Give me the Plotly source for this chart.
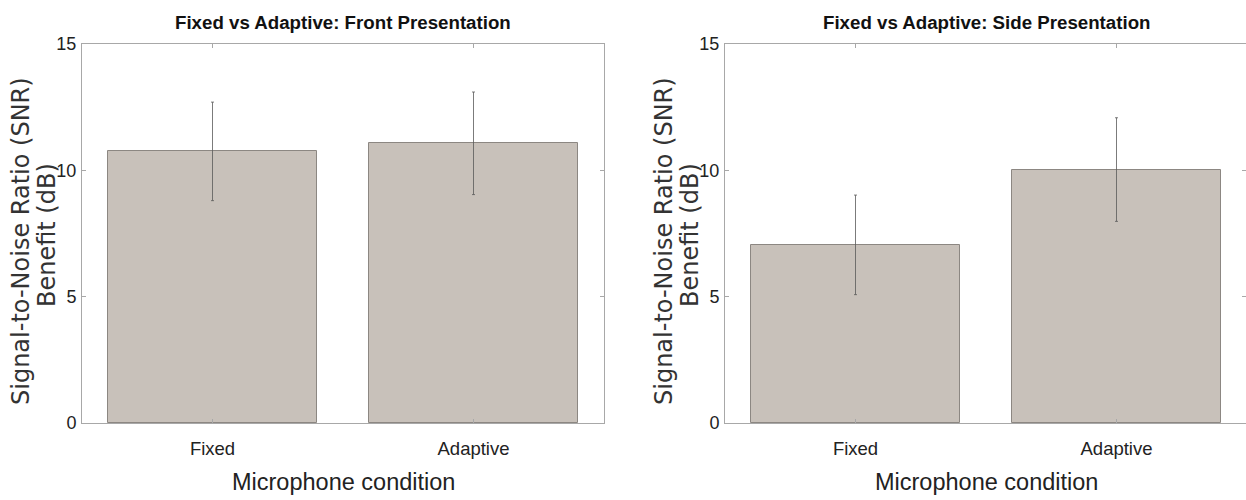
import plotly.graph_objects as go

categories = ["Fixed", "Adaptive"]
front_means = [10.75, 11.07]
front_err = [1.95, 2.03]
side_means = [7.05, 10.03]
side_err = [1.97, 2.05]
y_ticks = [0, 5, 10, 15]

titles = ["Fixed vs Adaptive: Front Presentation", "Fixed vs Adaptive: Side Presentation"]
x_title = "Microphone condition"
y_title_lines = ["Signal-to-Noise Ratio (SNR)", "Benefit (dB)"]

W, H = 1246, 500
sans = "Liberation Sans, Arial, sans-serif"
wide = "DejaVu Sans, Verdana, sans-serif"
bar_fill = "#C8C1BA"
bar_edge = "#8C8782"
axis_col = "#A8A8A8"

# plot-area pixel boxes (left, right) and vertical extent (top, bottom)
boxes = [(82, 604), (725, 1246)]
top_px, bot_px = 44, 423

fig = go.Figure()
series = [(front_means, front_err, "x", "y"), (side_means, side_err, "x2", "y2")]
for means, errs, xa, ya in series:
    fig.add_trace(go.Bar(
        x=categories, y=means, xaxis=xa, yaxis=ya, width=0.8,
        marker=dict(color=bar_fill, line=dict(color=bar_edge, width=1)),
        error_y=dict(type="data", array=errs, visible=True, color="rgba(90,90,90,0.8)",
                     thickness=1, width=1.5),
        showlegend=False, hoverinfo="skip",
    ))

ydom = [1 - bot_px / H, 1 - top_px / H]
common_x = dict(type="category", showline=True, linecolor=axis_col, automargin=False,
                linewidth=1, mirror="ticks", ticks="inside", ticklen=4, tickcolor=axis_col,
                showgrid=False, zeroline=False, ticklabelstandoff=9,
                tickfont=dict(family=sans, size=18.5, color="#222"))
common_y = dict(range=[0, 15], tickvals=y_ticks, showline=True, linecolor=axis_col, automargin=False,
                linewidth=1, mirror="ticks", ticks="inside", ticklen=4, tickcolor=axis_col,
                showgrid=False, zeroline=False, ticklabelstandoff=1,
                tickfont=dict(family=sans, size=18, color="#222"))

# right panel extends ~1px past the window edge in the reference
x2_range = [-0.5, -0.5 + 2 * (boxes[1][1] - boxes[1][0]) / (1247 - boxes[1][0])]

fig.update_layout(
    width=W, height=H, margin=dict(l=0, r=0, t=0, b=0, pad=0, autoexpand=False),
    paper_bgcolor="white", plot_bgcolor="white", bargap=0,
    xaxis=dict(domain=[boxes[0][0] / W, boxes[0][1] / W], anchor="y", range=[-0.5, 1.5], **common_x),
    yaxis=dict(domain=ydom, anchor="x", **common_y),
    xaxis2=dict(domain=[boxes[1][0] / W, boxes[1][1] / W], anchor="y2", range=x2_range, **common_x),
    yaxis2=dict(domain=ydom, anchor="x2", **common_y),
)

annotations = []
for i, (x0, x1) in enumerate(boxes):
    cx = (x0 + (x1 if i == 0 else 1247)) / 2
    annotations.append(dict(text="<b>" + titles[i] + "</b>", x=cx / W, y=1 - 22 / H,
                            xref="paper", yref="paper", showarrow=False,
                            font=dict(family=sans, size=18.7, color="#111"),
                            xanchor="center", yanchor="middle"))
    annotations.append(dict(text=x_title, x=cx / W, y=1 - 482 / H,
                            xref="paper", yref="paper", showarrow=False,
                            font=dict(family=sans, size=23.5, color="#222"),
                            xanchor="center", yanchor="middle"))
    annotations.append(dict(text=y_title_lines[0], x=(x0 - 61) / W, y=1 - 241 / H,
                            xref="paper", yref="paper", showarrow=False, textangle=-90,
                            font=dict(family=wide, size=24, color="#333"),
                            xanchor="center", yanchor="middle"))
    annotations.append(dict(text=y_title_lines[1], x=(x0 - 35) / W, y=1 - 235 / H,
                            xref="paper", yref="paper", showarrow=False, textangle=-90,
                            font=dict(family=wide, size=24, color="#333"),
                            xanchor="center", yanchor="middle"))
fig.update_layout(annotations=annotations)

fig.write_html("out.html", config={"displayModeBar": False},
               post_script="document.body.style.margin='0';document.body.style.overflow='hidden';")
